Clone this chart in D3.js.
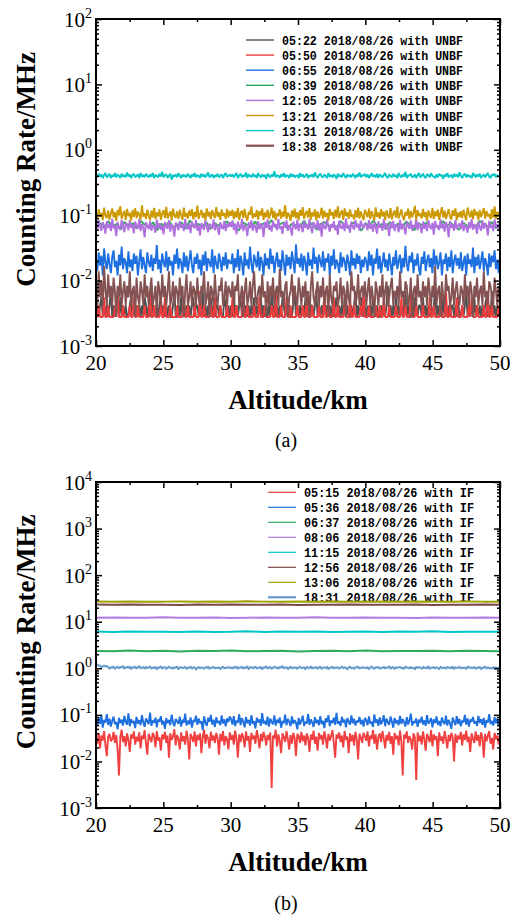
<!DOCTYPE html>
<html>
<head>
<meta charset="utf-8">
<script src="https://cdn.jsdelivr.net/npm/d3@7"></script>
<style>
  body { margin: 0; background: #fff; }
  svg { display: block; }
  .tick-label { font-family: "Liberation Serif", "Times New Roman", serif; font-size: 21px; fill: #000; }
  .axis-title { font-family: "Liberation Serif", "Times New Roman", serif; font-weight: bold; font-size: 27px; fill: #000; }
  .caption { font-family: "Liberation Serif", "Times New Roman", serif; font-size: 20px; fill: #000; }
  .legend-text { font-family: "Liberation Mono", "DejaVu Sans Mono", monospace; font-weight: bold; font-size: 13px; fill: #000; }
</style>
</head>
<body>
<svg id="chart" width="517" height="917"></svg>
<script>
// altitude axis, shared by both panels
let altitudeRange = [20, 50];
let xTicks = [20, 25, 30, 35, 40, 45, 50];
let xMinorTicks = [22.5, 27.5, 32.5, 37.5, 42.5, 47.5];

// unit factors for the stored readings
let countUnit = 0.00139;  // MHz per photon count (low-rate channels)
let milli = 0.001;
let centi = 0.01;

// panel (a): UNBF measurements
let yExpA = [-3, -2, -1, 0, 1, 2];
let labelsA = ['05:22 2018/08/26 with UNBF', '05:50 2018/08/26 with UNBF', '06:55 2018/08/26 with UNBF',
  '08:39 2018/08/26 with UNBF', '12:05 2018/08/26 with UNBF', '13:21 2018/08/26 with UNBF',
  '13:31 2018/08/26 with UNBF', '18:38 2018/08/26 with UNBF'];

// counts
let gray0522 = [2,3,2,3,4,2,3,2,3,2,3,5,2,3,2,3,3,2,4,2,3,2,3,2,2,3,4,2,3,2,
  3,2,3,2,3,2,4,3,2,3,2,6,2,3,2,3,2,3,4,2,3,2,3,2,3,2,2,3,5,2,
  2,3,2,4,2,3,2,3,2,3,2,3,4,2,3,3,2,3,2,5,2,3,2,3,2,4,2,3,2,3,
  3,2,3,2,2,4,3,2,3,2,3,2,5,2,3,2,3,4,2,3,2,3,2,3,2,3,2,4,2,3,
  2,3,4,2,3,2,3,2,3,2,5,2,3,2,3,2,3,2,4,3,2,3,2,3,2,2,3,6,2,3,
  2,3,2,3,2,4,2,3,2,3,3,2,3,5,2,3,2,3,2,4,2,3,2,3,2,3,2,3,4,2,
  3,2,3,2,4,2,3,2,2,3,2,3,5,2,3,2,3,4,2,3,2,3,2,3,2,4,3,2,3,2,
  2,3,2,3,2,3,6,2,3,2,3,2,4,2,3,2,3,2,3,5,2,3,2,2,3,2,4,3,2,3,
  3,2,4,2,3,2,3,2,3,2,3,5,2,3,2,3,2,4,2,3,2,3,2,3,3,2,3,2,4,2,
  2,3,2,3,5,2,3,2,3,2,4,2,3,2,3,2,3,2,3,4,2,3,2,5,2,3,2,3,2,3];
let red0550 = [2,2,3,2,2,2,4,2,2,3,2,2,2,2,3,2,5,2,2,2,3,2,2,2,2,3,2,2,4,2,
  2,3,2,2,2,2,3,2,2,2,5,2,2,3,2,2,2,2,3,2,2,4,2,2,2,3,2,2,2,2,
  3,2,2,2,2,4,2,2,3,2,2,2,2,3,2,2,2,5,2,2,3,2,2,2,2,3,2,2,4,2,
  2,2,3,2,2,2,2,3,2,2,2,4,2,2,3,2,2,2,2,5,2,2,3,2,2,2,2,3,2,2,
  2,4,2,2,2,3,2,2,2,2,3,2,2,5,2,2,2,3,2,2,2,4,2,2,3,2,2,2,2,3,
  2,2,2,3,2,2,4,2,2,2,3,2,2,2,2,3,2,2,2,5,2,2,3,2,2,2,4,2,2,3,
  2,2,2,2,3,2,2,2,4,2,2,3,2,2,2,2,3,2,5,2,2,2,3,2,2,2,2,3,2,2,
  3,2,2,4,2,2,2,3,2,2,2,2,3,2,2,2,4,2,2,3,2,2,2,5,2,2,2,3,2,2,
  2,2,3,2,2,2,2,4,2,2,3,2,2,2,2,3,2,2,2,5,2,2,3,2,2,2,2,4,2,2,
  2,3,2,2,2,2,3,2,4,2,2,2,3,2,2,2,2,3,2,2,5,2,2,3,2,2,2,2,3,2];
let brown1838 = [6,3,10,4,7,3,12,5,3,9,4,6,3,8,5,2,6,4,9,3,5,7,3,6,4,10,3,5,6,2,
  8,4,3,7,5,3,9,4,6,3,5,8,3,4,6,2,7,5,3,9,4,6,3,5,10,3,4,7,3,6,
  5,3,8,4,6,2,5,9,3,4,7,3,6,5,3,8,4,3,6,5,10,3,4,7,2,6,5,3,9,4,
  3,6,5,8,3,4,7,3,6,5,4,7,3,6,5,9,3,4,6,2,5,8,3,4,7,3,6,10,4,3,
  5,6,3,9,4,5,2,7,3,6,4,8,3,5,6,3,11,4,5,3,6,7,2,4,5,9,3,6,4,3,
  8,5,3,6,4,7,3,5,2,6,10,4,3,5,7,3,6,4,8,3,5,6,2,9,4,3,6,5,7,3,
  4,8,3,6,5,2,7,4,3,10,5,6,3,4,9,3,5,6,4,7,3,5,8,3,6,4,2,7,5,3,
  6,4,9,3,5,7,3,4,6,8,3,5,4,6,3,10,4,5,3,7,6,3,4,8,2,5,6,3,9,4,
  5,3,7,4,6,3,8,5,3,6,4,12,3,5,6,2,7,4,3,9,5,6,3,4,8,3,5,7,4,3,
  6,5,3,9,4,6,3,7,5,2,6,4,8,3,5,6,3,10,4,5,3,7,6,4,3,8,5,3,6,4];
// milli-MHz
let blue0655 = [21,14,27,17,24,12,31,19,15,26,18,13,23,29,16,20,12,25,17,33,15,22,19,13,28,16,21,14,26,18,
  24,12,20,30,15,23,17,13,27,19,16,25,14,22,18,35,15,21,13,26,19,16,28,14,23,17,20,12,25,18,
  31,15,22,19,13,27,16,24,14,20,29,17,13,23,18,26,15,21,12,25,17,28,14,22,19,16,30,13,24,18,
  15,26,20,14,23,17,27,15,21,19,18,26,13,22,16,30,14,24,19,12,27,17,21,15,33,18,13,25,20,16,
  28,14,23,19,12,26,17,22,15,31,18,24,13,20,27,16,21,14,29,19,12,25,17,23,15,28,20,13,36,18,
  22,16,26,14,24,19,12,27,17,21,15,32,18,23,13,25,20,16,28,14,22,19,26,12,24,17,30,15,21,18,
  13,27,16,23,20,14,25,19,12,29,17,22,15,26,18,24,13,21,16,23,20,14,28,17,25,12,22,18,31,15,
  24,13,19,27,16,21,14,26,18,12,23,17,29,15,20,25,13,22,16,34,18,14,24,19,27,13,21,17,26,15,
  12,23,18,28,14,20,25,16,22,13,30,17,24,15,19,27,12,21,18,26,14,23,16,29,13,20,25,17,22,15,
  27,14,19,24,12,26,18,21,16,32,13,23,17,25,15,20,28,14,22,18,12,26,16,24,19,29,15,21,13,24];
let green0839 = [70,76,64,81,67,73,60,79,69,75,63,82,71,66,78,59,74,68,80,65,
  72,77,62,83,69,74,66,79,61,76,70,64,81,68,73,58,77,71,66,80,
  63,75,69,84,65,72,78,61,74,70,67,82,64,76,60,73,79,68,71,65,
  81,69,63,77,72,58,75,70,83,66,73,61,79,68,74,64,80,71,59,76,
  69,78,65,72,62,81,70,75,67,60,77,68,73,64,82,71,66,79,63,74];
let purple1205 = [72,61,84,66,58,78,69,52,81,64,74,57,88,63,70,48,79,66,60,85,67,55,76,71,59,83,64,72,53,80,
  68,62,87,57,73,65,46,78,69,61,82,58,71,66,54,86,63,75,60,70,51,79,67,62,84,56,73,65,47,77,
  69,59,81,64,72,57,88,66,61,75,53,80,68,63,85,58,71,49,76,65,60,83,67,55,74,70,62,86,59,72,
  64,50,78,68,61,82,57,73,66,79,66,83,59,74,51,80,68,62,87,57,71,65,48,78,63,84,58,72,67,54,
  81,61,75,69,46,79,64,86,60,70,56,82,66,73,59,88,62,68,52,77,65,83,58,71,63,49,80,67,61,85,
  57,74,69,55,82,64,72,60,87,66,53,78,70,62,84,58,75,47,79,65,61,86,68,56,73,64,81,59,70,50,
  83,66,62,77,57,89,63,71,54,80,67,60,85,65,74,58,82,69,63,76,71,59,84,62,73,56,79,66,52,81,
  64,70,58,87,61,75,67,48,78,63,82,57,72,69,55,85,60,74,65,51,79,68,62,83,58,71,64,88,59,76,
  66,53,80,62,73,57,84,68,61,77,50,82,65,70,59,86,63,74,56,79,67,46,81,64,72,58,85,61,69,75,
  62,83,57,71,66,54,78,63,87,60,73,68,52,80,65,58,84,62,76,69,49,82,64,71,57,86,66,73,60,78];
let gold1321 = [112,89,124,95,108,84,131,98,91,118,86,105,127,93,111,82,121,99,138,88,104,116,85,125,97,109,83,119,94,128,
  90,113,101,86,142,95,107,88,122,99,84,117,93,129,87,110,96,123,85,106,119,91,134,89,102,115,83,126,98,92,
  114,87,121,100,85,131,94,108,89,118,97,124,86,112,93,140,88,105,120,91,109,84,127,96,113,87,119,102,90,133,
  95,111,85,122,98,107,88,125,93,116,98,121,87,114,92,129,84,108,117,90,125,95,83,112,101,136,89,106,94,120,
  86,115,99,127,85,110,93,122,88,104,131,91,116,84,107,97,124,89,113,95,143,87,109,100,82,118,94,126,90,111,
  85,120,98,133,88,105,116,92,128,86,110,96,123,84,114,91,103,130,89,117,94,108,83,125,99,112,87,121,93,137,
  90,106,118,85,127,97,111,88,123,95,102,86,119,92,130,89,114,97,84,121,108,93,126,87,115,99,83,132,94,110,
  88,124,96,113,85,119,101,90,128,86,107,117,92,135,89,104,122,95,84,112,98,126,87,116,93,109,139,85,120,97,
  106,89,125,94,111,83,118,100,91,129,87,114,96,122,85,108,133,92,117,88,103,124,95,86,119,98,127,84,110,93,
  115,90,121,97,84,131,106,92,118,87,125,99,113,85,120,94,109,128,89,116,96,104,86,123,91,136,88,112,95,119];
// centi-MHz
let cyan1331 = [41,38,43,39,42,37,41,44,38,40,43,37,41,39,44,38,42,40,37,43,39,41,38,45,39,42,37,41,43,38,
  40,42,37,44,39,41,38,43,40,38,42,39,44,37,41,40,38,43,39,46,38,41,42,37,40,43,35,41,39,42,
  38,44,40,37,42,39,41,38,43,40,37,42,39,44,38,41,40,37,43,39,42,38,41,45,38,40,42,37,41,39,
  43,38,40,42,37,41,44,39,40,42,39,42,38,41,44,37,40,43,38,41,39,45,37,42,40,38,43,39,41,37,
  44,40,38,42,39,41,36,43,40,38,42,39,47,38,41,40,37,42,39,44,38,41,40,37,43,39,42,38,40,41,
  37,44,39,42,38,40,43,37,41,39,42,38,45,40,37,41,43,39,38,42,40,37,44,39,41,38,42,40,36,43,
  39,41,38,44,40,37,42,39,41,38,43,40,37,42,39,45,38,41,40,43,38,42,37,40,44,39,41,38,43,37,
  42,40,38,41,44,39,37,42,40,38,43,39,41,37,44,40,38,42,39,46,37,41,40,43,38,39,42,37,41,44,
  38,40,43,39,37,42,41,38,44,40,39,37,42,38,43,40,41,36,42,39,44,38,40,41,37,43,39,42,38,45,
  40,37,41,43,38,42,39,40,37,44,41,38,42,39,43,37,40,42,38,41,44,39,37,42,40,43,38,41,39,42];

// panel (b): IF measurements
let yExpB = [-3, -2, -1, 0, 1, 2, 3, 4];
let labelsB = ['05:15 2018/08/26 with IF', '05:36 2018/08/26 with IF', '06:37 2018/08/26 with IF',
  '08:06 2018/08/26 with IF', '11:15 2018/08/26 with IF', '12:56 2018/08/26 with IF',
  '13:06 2018/08/26 with IF', '18:31 2018/08/26 with IF'];

// milli-MHz
let red0515 = [32,24,41,19,36,28,45,22,13,34,39,27,30,43,25,37,18,5,33,48,26,35,21,40,29,16,38,31,44,23,
  34,27,42,19,36,30,47,24,14,39,32,26,41,35,20,45,28,33,17,38,30,43,25,36,12,40,29,34,49,22,
  37,31,18,42,27,35,23,46,30,11,39,33,26,44,21,37,29,40,15,34,48,24,38,31,19,43,28,36,25,41,
  32,14,39,27,45,22,35,30,18,42,29,37,23,46,31,12,38,26,40,33,20,44,28,35,16,41,30,36,24,47,
  32,19,39,27,43,34,22,37,29,42,2.7,36,31,48,21,38,28,15,40,33,26,45,30,18,37,24,41,32,13,39,
  35,25,43,27,36,22,40,31,16,38,29,46,24,34,17,41,30,37,23,44,32,19,39,28,35,47,25,12,38,31,
  42,26,36,20,45,29,34,15,40,27,37,22,43,30,11,39,33,25,41,35,28,44,21,36,30,47,24,38,18,33,
  40,26,45,31,19,37,28,43,24,35,14,41,30,36,22,46,27,5,38,31,44,25,35,29,18,40,33,4,42,27,
  36,23,44,30,17,39,32,26,47,21,38,29,35,13,42,28,34,24,45,31,19,37,27,41,33,10,39,25,36,30,
  43,22,38,29,46,26,34,16,40,31,25,44,28,37,21,42,33,12,39,27,35,45,24,32,18,41,30,36,23,38];
let blue0536 = [72,58,89,64,97,53,78,68,104,61,83,56,75,92,63,70,49,86,66,79,59,95,71,62,108,57,81,67,74,52,
  90,65,77,60,99,69,55,84,73,63,112,58,76,68,87,54,80,71,94,62,74,50,85,66,78,60,101,69,57,82,
  72,64,91,56,79,67,106,59,75,63,88,53,77,70,96,61,83,66,73,47,93,68,58,86,71,100,62,78,55,89,
  67,74,60,97,65,80,57,84,70,92,81,62,94,57,76,68,103,60,85,71,54,90,66,78,59,98,64,73,51,87,
  69,80,58,109,65,75,61,92,56,83,70,63,97,59,79,67,88,53,74,66,101,60,82,71,57,93,64,77,68,49,
  86,62,75,96,58,72,65,105,61,80,69,55,89,66,78,60,94,63,74,52,84,70,99,57,76,67,87,61,111,64,
  73,58,91,68,79,54,85,71,62,97,66,82,59,75,69,90,63,78,56,86,77,60,93,65,71,55,102,67,80,58,
  88,63,74,98,57,83,69,61,92,72,53,86,66,77,60,95,64,81,70,56,89,62,75,107,59,73,67,84,55,79,
  68,91,62,76,58,99,65,71,85,54,80,67,93,61,74,57,88,70,63,96,59,78,66,50,87,72,60,94,64,82,
  57,75,69,100,62,84,56,79,71,90,65,73,58,95,67,81,61,86,53,77,68,104,63,74,59,89,66,83,60,76];
// MHz
let green0637 = [2.36,2.31,2.40,2.33,2.38,2.29,2.37,2.34,2.41,2.32,2.36,2.39,2.30,
  2.35,2.38,2.33,2.40,2.31,2.36,2.34,2.39,2.32,2.37,2.35,2.33];
let purple0806 = [12.2,12.3,12.1,12.2,12.4,12.1,12.2,12.3,12.0,12.2,12.3,12.1,12.2,
  12.4,12.1,12.2,12.3,12.1,12.2,12.0,12.3,12.2,12.1,12.3,12.2];
let cyan1115 = [6.15,6.02,6.20,6.08,6.12,5.98,6.18,6.05,6.10,6.22,6.03,6.14,6.07,
  6.19,6.00,6.11,6.16,6.04,6.13,6.08,6.21,6.01,6.12,6.06,6.10];
let brown1256 = [23.3,23.0,23.4,23.1,23.2,22.9,23.3,23.1,23.4,23.0,23.2,23.3,22.9,
  23.1,23.2,23.4,23.0,23.2,23.1,23.3,22.9,23.2,23.1,23.3,23.0];
let olive1306 = [27.1,26.8,27.3,26.9,27.0,27.2,26.7,27.1,26.9,27.4,27.0,26.8,27.2,
  26.9,27.1,27.0,26.7,27.3,26.9,27.1,27.0,26.8,27.2,27.0,26.9];
// centi-MHz
let lightBlue1831 = [118,122,112,116,104,110,115,108,113,106,97,106,101,111,96,105,109,99,107,103,113,97,104,108,100,110,95,106,102,109,
  98,105,112,99,103,107,96,108,101,104,110,97,105,100,108,94,106,102,111,98,104,107,96,103,109,100,105,97,106,102,
  110,95,104,108,99,103,107,96,105,101,109,98,104,106,93,102,108,99,105,103,97,107,101,110,96,104,102,108,98,105,
  100,106,95,103,109,99,104,101,107,102,104,97,108,101,111,96,105,102,109,98,106,100,112,95,104,107,99,103,110,97,
  105,101,108,94,106,102,111,98,104,107,96,103,109,100,105,97,108,102,113,99,104,106,95,103,110,98,105,101,107,96,
  104,109,99,102,106,94,108,103,100,111,97,105,102,107,98,104,110,96,103,106,100,108,95,104,102,109,98,105,101,107,
  97,103,110,99,106,102,94,105,108,100,104,96,107,103,109,98,105,101,106,102,99,107,95,104,110,101,97,106,103,108,
  96,104,100,109,98,105,102,111,97,103,107,95,106,101,104,108,99,103,96,110,102,105,98,107,100,104,94,109,101,106,
  103,97,108,100,105,99,112,96,104,102,107,98,106,101,95,109,103,100,105,97,108,102,104,99,110,96,106,101,103,107,
  98,105,100,104,96,109,102,107,99,103,106,97,105,101,108,95,104,102,110,98,106,100,103,97,107,101,105,99,104,102];

let svg = d3.select('#chart');

function drawPanel(config) {
  let g = svg.append('g');
  let xScale = d3.scaleLinear()
      .domain(altitudeRange)
      .range([config.left, config.right]);
  let yScale = d3.scaleLog()
      .domain([Math.pow(10, config.yExp[0]), Math.pow(10, config.yExp[config.yExp.length - 1])])
      .range([config.bottom, config.top]);

  // legend (drawn first, the data runs over it in (b))
  config.series.forEach((s, i) => {
    let ly = config.legendY + i * config.legendStep;
    g.append('line')
      .attr('x1', config.legendX)
      .attr('x2', config.legendX + 28)
      .attr('y1', ly)
      .attr('y2', ly)
      .style('stroke', s.color)
      .style('stroke-width', s.legendWidth || 1.2);
    g.append('text')
      .attr('class', 'legend-text')
      .attr('x', config.legendX + 36)
      .attr('y', ly + 5)
      .attr('textLength', config.legendTextLength)
      .attr('lengthAdjust', 'spacingAndGlyphs')
      .text(s.label);
  });

  let x0 = altitudeRange[0];
  let span = altitudeRange[1] - altitudeRange[0];
  for (let s of config.series) {
    let n = s.values.length;
    let line = d3.line()
        .x((d, i) => xScale(x0 + i * span / (n - 1)))
        .y(d => yScale(d * s.unit));
    g.append('path')
      .datum(s.values)
      .attr('d', line)
      .style('fill', 'none')
      .style('stroke', s.color)
      .style('stroke-width', s.width)
      .style('stroke-linejoin', 'bevel');
  }

  // frame
  g.append('rect')
    .attr('x', config.left)
    .attr('y', config.top)
    .attr('width', config.right - config.left)
    .attr('height', config.bottom - config.top)
    .style('fill', 'none')
    .style('stroke', '#000')
    .style('stroke-width', 2);

  let majorY = config.yExp.map(e => Math.pow(10, e));
  let minorY = [];
  config.yExp.slice(0, -1).forEach(e => {
    for (let k = 2; k <= 9; k++) minorY.push(k * Math.pow(10, e));
  });

  function ticks(axis, values, size, transform) {
    let a = g.append('g')
        .attr('transform', transform)
        .call(axis.tickValues(values).tickSize(-size).tickFormat(''));
    a.select('.domain').remove();
    a.selectAll('line').style('stroke', '#000').style('stroke-width', 1.5);
  }
  ticks(d3.axisLeft(yScale), majorY, 6, `translate(${config.left},0)`);
  ticks(d3.axisLeft(yScale), minorY, 3, `translate(${config.left},0)`);
  ticks(d3.axisRight(yScale), majorY, 6, `translate(${config.right},0)`);
  ticks(d3.axisRight(yScale), minorY, 3, `translate(${config.right},0)`);
  ticks(d3.axisBottom(xScale), xTicks, 6, `translate(0,${config.bottom})`);
  ticks(d3.axisBottom(xScale), xMinorTicks, 3, `translate(0,${config.bottom})`);
  ticks(d3.axisTop(xScale), xTicks, 6, `translate(0,${config.top})`);
  ticks(d3.axisTop(xScale), xMinorTicks, 3, `translate(0,${config.top})`);

  // tick labels
  for (let e of config.yExp) {
    let t = g.append('text')
        .attr('class', 'tick-label')
        .attr('x', config.left - 4)
        .attr('y', yScale(Math.pow(10, e)) + 7.5)
        .style('text-anchor', 'end');
    t.append('tspan').text('10');
    t.append('tspan')
      .attr('dy', -9)
      .style('font-size', '14px')
      .text(e < 0 ? '-' + Math.abs(e) : e);
  }
  for (let v of xTicks) {
    g.append('text')
      .attr('class', 'tick-label')
      .attr('x', xScale(v))
      .attr('y', config.bottom + 24)
      .style('text-anchor', 'middle')
      .text(v);
  }

  // axis titles
  g.append('text')
    .attr('class', 'axis-title')
    .attr('transform', `translate(35,${(config.top + config.bottom) / 2 - 13}) rotate(-90)`)
    .style('text-anchor', 'middle')
    .text('Counting Rate/MHz');
  g.append('text')
    .attr('class', 'axis-title')
    .attr('x', (config.left + config.right) / 2)
    .attr('y', config.bottom + 63)
    .style('text-anchor', 'middle')
    .text('Altitude/km');
  g.append('text')
    .attr('class', 'caption')
    .attr('x', 286)
    .attr('y', config.captionY)
    .style('text-anchor', 'middle')
    .text(config.caption);
}

let colorsA = ['#505050', '#f03c3c', '#1e6fdf', '#2eaa60', '#b070e0', '#cc9900', '#00c6c6', '#855252'];
let valuesA = [gray0522, red0550, blue0655, green0839, purple1205, gold1321, cyan1331, brown1838];
let unitsA = [countUnit, countUnit, milli, milli, milli, milli, centi, countUnit];
let colorsB = ['#f04040', '#1e6fdf', '#2eaa60', '#b07ee0', '#00c6c6', '#7b4848', '#a0a000', '#6699cc'];
let valuesB = [red0515, blue0536, green0637, purple0806, cyan1115, brown1256, olive1306, lightBlue1831];
let unitsB = [milli, milli, 1, 1, 1, 1, 1, centi];

drawPanel({
  left: 96, right: 500, top: 19, bottom: 346,
  yExp: yExpA,
  legendX: 246, legendY: 40, legendStep: 15.1, legendTextLength: 181,
  caption: '(a)', captionY: 447,
  series: valuesA.map((v, i) => ({
    label: labelsA[i], values: v, unit: unitsA[i], color: colorsA[i],
    width: 1.9,
    legendWidth: i === 7 ? 2.2 : 1.4
  }))
});

drawPanel({
  left: 96, right: 500, top: 482, bottom: 808,
  yExp: yExpB,
  legendX: 268, legendY: 492.3, legendStep: 15, legendTextLength: 170,
  caption: '(b)', captionY: 910,
  series: valuesB.map((v, i) => ({
    label: labelsB[i], values: v, unit: unitsB[i], color: colorsB[i],
    width: v.length < 50 ? 2 : 1.9,
    legendWidth: i === 7 ? 2.2 : 1.2
  }))
});
</script>
</body>
</html>
